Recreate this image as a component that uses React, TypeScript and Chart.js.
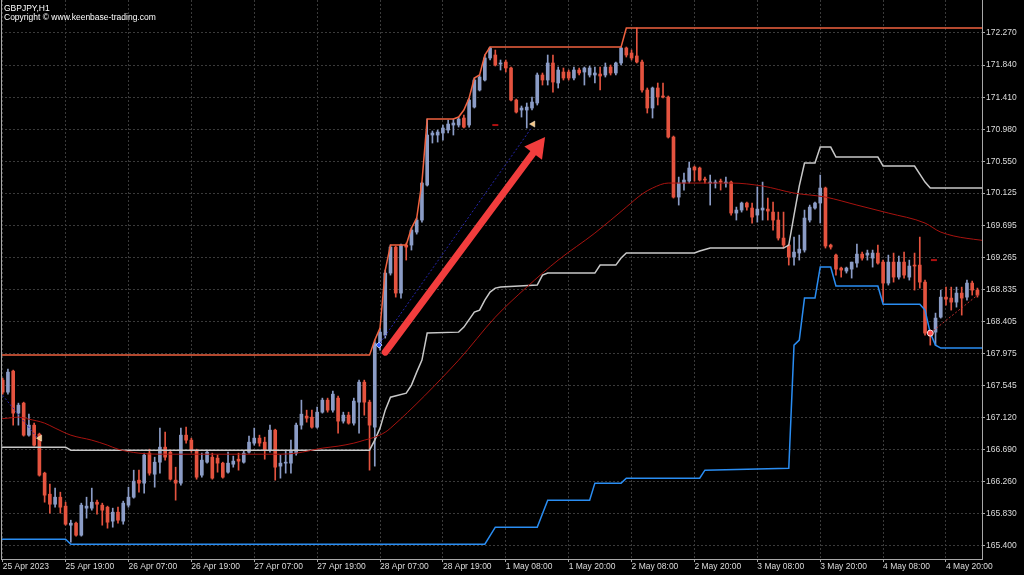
import React, { useEffect, useRef } from "react";
import { Chart, registerables } from "chart.js";

Chart.register(...registerables);

// ---- Candles (GBPJPY, H1), one value per hourly bar, index 0 = 25 Apr 07:00 ----
const OPEN = [
  167.620,167.459,167.741,167.178,167.312,166.883,167.017,166.896,166.374,166.092,
  165.958,166.052,165.932,165.677,165.704,165.543,165.905,165.905,165.985,165.945,
  165.918,165.731,165.851,165.731,165.945,166.052,166.280,166.240,166.642,166.360,
  166.521,166.722,166.655,166.280,166.240,166.883,166.816,166.682,166.347,166.521,
  166.588,166.575,166.508,166.387,166.494,166.561,166.521,166.655,166.776,166.843,
  166.789,166.682,166.950,166.468,166.508,166.508,166.642,167.017,167.138,167.124,
  166.990,167.191,167.352,167.218,167.379,167.071,167.151,167.044,167.325,167.593,
  167.325,166.990,168.116,168.223,169.054,169.402,168.786,169.429,169.429,169.603,
  169.764,170.233,170.903,170.903,170.930,170.970,171.037,171.037,171.131,171.037,
  171.278,171.506,171.640,171.935,171.975,171.854,171.881,171.801,171.372,171.238,
  171.238,171.265,171.332,171.707,171.640,171.868,171.600,171.747,171.747,171.667,
  171.774,171.747,171.707,171.707,171.720,171.707,171.814,171.734,171.868,172.069,
  172.002,171.962,171.881,171.506,171.265,171.533,171.426,171.412,170.876,170.072,
  170.260,170.287,170.474,170.461,170.313,170.260,170.260,170.287,170.260,170.273,
  169.858,169.898,169.992,169.925,169.831,169.898,169.911,169.871,169.764,169.523,
  169.429,169.268,169.322,169.362,169.764,169.925,169.992,170.193,169.429,169.295,
  169.121,169.081,169.107,169.188,169.308,169.295,169.255,169.322,169.201,168.920,
  169.201,169.000,169.201,169.000,169.161,169.161,168.933,168.250,168.263,168.464,
  168.732,168.719,168.665,168.786,168.732,168.920,168.826,
];
const HIGH = [
  167.647,167.767,167.754,167.312,167.325,167.164,167.044,166.910,166.387,166.226,
  166.173,166.119,165.985,165.744,165.717,165.972,166.052,166.173,166.012,165.972,
  165.932,165.905,165.918,165.999,166.186,166.414,166.414,166.642,166.695,166.588,
  166.977,166.923,166.682,166.454,166.977,166.990,166.843,166.695,166.642,166.682,
  166.642,166.615,166.521,166.655,166.602,166.642,166.669,166.870,166.977,166.883,
  166.856,167.017,166.963,166.615,166.682,166.816,167.044,167.352,167.218,167.218,
  167.258,167.379,167.379,167.473,167.406,167.191,167.191,167.379,167.620,167.620,
  167.352,168.156,168.317,169.094,169.429,169.416,169.442,169.456,169.657,169.791,
  170.273,171.117,170.957,170.970,171.037,171.104,171.117,171.144,171.171,171.399,
  171.667,171.707,171.975,172.082,172.042,171.908,171.908,171.814,171.385,171.292,
  171.332,171.412,171.734,171.734,171.975,171.975,171.814,171.801,171.774,171.814,
  171.801,171.814,171.828,171.814,171.814,171.868,171.841,171.881,172.082,172.082,
  172.042,172.337,171.908,171.533,171.546,171.600,171.600,171.426,170.890,170.340,
  170.394,170.541,170.488,170.474,170.340,170.367,170.300,170.313,170.340,170.287,
  169.938,170.005,170.005,169.992,170.206,170.273,170.059,170.005,169.871,169.871,
  169.442,169.536,169.563,169.898,169.965,170.005,170.367,170.206,169.442,169.308,
  169.134,169.134,169.201,169.442,169.335,169.362,169.362,169.429,169.228,169.295,
  169.322,169.282,169.335,169.228,169.322,169.536,168.960,168.290,168.518,168.826,
  168.866,168.866,168.866,168.866,168.960,168.947,168.853,
];
const LOW = [
  167.432,167.432,167.017,167.017,166.870,166.870,166.736,166.334,165.985,165.838,
  165.918,165.838,165.677,165.449,165.530,165.530,165.771,165.878,165.824,165.677,
  165.637,165.650,165.704,165.690,165.918,166.039,166.119,166.106,166.347,166.186,
  166.374,166.548,166.280,166.012,166.213,166.776,166.655,166.293,166.320,166.508,
  166.293,166.387,166.307,166.374,166.454,166.414,166.508,166.642,166.749,166.736,
  166.561,166.655,166.280,166.307,166.374,166.374,166.615,166.963,167.057,166.977,
  166.977,167.178,167.191,167.191,166.910,167.044,167.030,167.017,166.910,167.151,
  166.414,166.468,168.022,168.183,169.027,168.732,168.719,169.228,169.362,169.576,
  169.737,170.220,170.796,170.809,170.836,170.930,170.903,171.010,170.997,171.010,
  171.265,171.493,171.627,171.908,171.828,171.774,171.747,171.359,171.198,171.144,
  170.997,171.238,171.305,171.573,171.573,171.479,171.533,171.640,171.640,171.640,
  171.707,171.573,171.680,171.600,171.506,171.680,171.707,171.707,171.841,171.948,
  171.908,171.868,171.479,171.198,171.131,171.305,171.399,170.863,170.059,169.965,
  170.166,170.260,170.287,170.287,170.260,169.965,170.193,170.166,170.206,169.831,
  169.764,169.871,169.898,169.724,169.737,169.764,169.764,169.630,169.496,169.389,
  169.161,169.161,169.228,169.335,169.737,169.911,169.724,169.389,169.375,169.027,
  169.000,169.054,168.987,169.134,169.228,169.228,169.134,169.174,168.665,168.893,
  168.933,168.973,168.987,168.960,168.826,168.853,168.223,168.089,168.089,168.451,
  168.625,168.558,168.598,168.491,168.692,168.759,168.732,
];
const CLOSE = [
  167.459,167.727,167.178,167.285,166.883,167.017,166.749,166.347,166.079,165.958,
  166.052,165.918,165.690,165.704,165.543,165.945,165.932,165.985,165.958,165.878,
  165.717,165.851,165.744,165.972,166.052,166.267,166.240,166.615,166.374,166.521,
  166.722,166.588,166.293,166.240,166.883,166.816,166.682,166.320,166.548,166.655,
  166.307,166.508,166.320,166.508,166.535,166.535,166.642,166.789,166.843,166.776,
  166.682,166.950,166.454,166.508,166.521,166.682,167.017,167.164,167.111,166.990,
  167.191,167.352,167.218,167.432,167.071,167.151,167.044,167.339,167.593,167.325,
  167.017,168.116,168.263,169.054,169.402,168.786,169.429,169.402,169.630,169.764,
  170.260,170.903,170.930,170.943,170.997,171.050,171.064,171.117,171.010,171.372,
  171.640,171.680,171.935,172.069,171.841,171.868,171.801,171.372,171.211,171.265,
  171.278,171.345,171.707,171.640,171.868,171.613,171.774,171.667,171.667,171.774,
  171.734,171.801,171.801,171.734,171.694,171.814,171.734,171.868,172.069,171.975,
  171.935,171.881,171.506,171.265,171.533,171.412,171.412,170.876,170.072,170.260,
  170.300,170.461,170.434,170.300,170.300,170.273,170.273,170.273,170.273,169.858,
  169.898,169.992,169.938,169.804,169.911,169.925,169.885,169.764,169.523,169.429,
  169.268,169.335,169.375,169.791,169.938,169.992,170.193,169.416,169.402,169.107,
  169.094,169.121,169.201,169.308,169.255,169.322,169.322,169.188,168.920,169.201,
  169.000,169.201,169.027,169.148,169.148,168.933,168.250,168.210,168.451,168.732,
  168.705,168.665,168.786,168.719,168.920,168.826,168.759,
];

// ---- Axis ticks ----
const X_TICK_INDEX = [0, 12, 24, 36, 48, 60, 72, 84, 96, 108, 120, 132, 144, 156, 168, 180];
const X_TICK_LABELS = [
  "25 Apr 2023", "25 Apr 19:00", "26 Apr 07:00", "26 Apr 19:00", "27 Apr 07:00",
  "27 Apr 19:00", "28 Apr 07:00", "28 Apr 19:00", "1 May 08:00", "1 May 20:00",
  "2 May 08:00", "2 May 20:00", "3 May 08:00", "3 May 20:00", "4 May 08:00", "4 May 20:00",
];
const Y_TICKS = [
  172.27, 171.84, 171.41, 170.98, 170.55, 170.125, 169.695, 169.265, 168.835,
  168.405, 167.975, 167.545, 167.12, 166.69, 166.26, 165.83, 165.4,
];

// ---- Indicator lines: [bar index, price] vertices ----
const UPPER_BAND = [
  [-1,167.955],[70,167.955],[71,168.156],[72,168.317],[73,169.094],[74,169.429],[77,169.429],
  [78,169.657],[79,169.791],[80,170.273],[81,171.117],[86,171.117],[87,171.144],[88,171.238],
  [89,171.399],[90,171.667],[91,171.707],[92,171.975],[93,172.082],[118,172.082],[119,172.337],[189,172.337],
];
const LOWER_BAND = [
  [-1,165.489],[12,165.489],[13,165.422],[92,165.422],[94,165.650],[102,165.650],[104,166.012],
  [112,166.012],[113,166.240],[118,166.240],[119,166.307],[133,166.307],[134,166.414],[150,166.441],
  [151,168.089],[152,168.156],[153,168.719],[155,168.719],[156,169.134],[158,169.134],[159,168.880],
  [167,168.880],[168,168.638],[175,168.638],[176,168.558],[177,168.250],[178,168.089],[179,168.049],[189,168.049],
];
const MID_LINE = [
  [-1,166.722],[12,166.722],[13,166.682],[70,166.682],[71,166.816],[72,166.977],[73,167.218],
  [74,167.392],[77,167.446],[78,167.553],[79,167.727],[80,167.888],[81,168.250],[87,168.263],
  [88,168.330],[90,168.531],[91,168.558],[92,168.692],[93,168.799],[94,168.853],[95,168.866],
  [102,168.893],[103,169.027],[104,169.054],[113,169.054],[114,169.161],[117,169.161],[118,169.255],
  [119,169.322],[132,169.322],[133,169.349],[135,169.389],[149,169.389],[150,169.429],[151,169.831],
  [152,170.220],[153,170.528],[155,170.528],[156,170.742],[158,170.742],[159,170.608],[167,170.608],
  [168,170.488],[174,170.488],[176,170.273],[177,170.193],[189,170.193],
];
const MA_LINE = [
  [-1,167.097],[1,167.111],[3,167.124],[5,167.097],[8,167.044],[10,166.977],[13,166.883],
  [17,166.816],[20,166.749],[22,166.695],[26,166.642],[30,166.628],[53,166.628],[56,166.642],
  [61,166.709],[64,166.736],[67,166.776],[69,166.816],[71,166.856],[73,166.923],[74,166.977],
  [87,167.888],[94,168.464],[100,168.866],[106,169.228],[113,169.590],[119,169.938],[122,170.112],
  [124,170.193],[127,170.260],[139,170.260],[145,170.220],[151,170.126],[157,170.072],[163,169.965],
  [169,169.858],[176,169.724],[179,169.603],[189,169.469],
];

// ---- Annotations ----
const ZIGZAG_LEFT = [[-0.5,167.459],[6.5,166.856]];
const ZIGZAG_UP = [[72,168.116],[101,171.010]];
const ZIGZAG_END = [[177,168.250],[186.5,168.786]];
const MARK_ARROWS = [[7.1,166.843],[101.2,171.050]];
const MARK_DIAMOND = [[71.8,168.089]];
const MARK_FLOWER = [[177,168.250]];
const MARK_DASHES = [[94,171.037],[177.7,169.228]];
const ARROW_FROM = [73, 167.995];
const ARROW_TO = [103.5, 170.876];
const TITLE_LINES = ["GBPJPY,H1", "Copyright \u00A9 www.keenbase-trading.com"];

const BULL = "#8b9cc6";
const BEAR = "#e4533f";
const FONT_FAMILY = '"Liberation Sans", Arial, sans-serif';

const pts = (arr: number[][]) => arr.map(([x, y]) => ({ x, y }));

export default function App() {
  const ref = useRef<HTMLCanvasElement | null>(null);

  useEffect(() => {
    if (!ref.current) return;
    const colors = OPEN.map((o, i) => (CLOSE[i] >= o ? BULL : BEAR));
    const wickData = OPEN.map((_, i) => ({ x: i, y: [LOW[i], HIGH[i]] }));
    const bodyData = OPEN.map((o, i) => ({ x: i, y: [Math.min(o, CLOSE[i]), Math.max(o, CLOSE[i])] }));

    const overlay = {
      id: "overlay",
      afterDatasetsDraw(chart: any) {
        const { ctx, scales } = chart;
        const xs = scales.x, ys = scales.y;
        const x1 = xs.getPixelForValue(ARROW_FROM[0]);
        const y1 = ys.getPixelForValue(ARROW_FROM[1]);
        const x2 = xs.getPixelForValue(ARROW_TO[0]);
        const y2 = ys.getPixelForValue(ARROW_TO[1]);
        const ang = Math.atan2(y2 - y1, x2 - x1);
        const headLen = 20, headW = 11;
        const bx = x2 - headLen * Math.cos(ang);
        const by = y2 - headLen * Math.sin(ang);
        ctx.save();
        ctx.strokeStyle = "#f23d3d";
        ctx.fillStyle = "#f23d3d";
        ctx.lineWidth = 7;
        ctx.lineCap = "round";
        ctx.beginPath();
        ctx.moveTo(x1, y1);
        ctx.lineTo(bx + 2 * Math.cos(ang), by + 2 * Math.sin(ang));
        ctx.stroke();
        ctx.beginPath();
        ctx.moveTo(x2, y2);
        ctx.lineTo(bx + headW * Math.sin(ang), by - headW * Math.cos(ang));
        ctx.lineTo(bx - headW * Math.sin(ang), by + headW * Math.cos(ang));
        ctx.closePath();
        ctx.fill();
        ctx.restore();
      },
      afterDraw(chart: any) {
        const { ctx, chartArea } = chart;
        ctx.save();
        ctx.strokeStyle = "#a8a8a8";
        ctx.lineWidth = 1;
        ctx.beginPath();
        ctx.moveTo(chartArea.left + 0.5, chartArea.top);
        ctx.lineTo(chartArea.left + 0.5, chartArea.bottom);
        ctx.stroke();
        ctx.fillStyle = "#ffffff";
        ctx.font = `8.5px ${FONT_FAMILY}`;
        ctx.textBaseline = "alphabetic";
        ctx.textAlign = "left";
        ctx.fillText(TITLE_LINES[0], 4, 11);
        ctx.fillText(TITLE_LINES[1], 4, 20);
        ctx.restore();
      },
    };

    const lineDs = (data: number[][], color: string, width: number, extra: any = {}) => ({
      type: "line",
      data: pts(data),
      borderColor: color,
      borderWidth: width,
      pointRadius: 0,
      tension: 0,
      order: 1,
      ...extra,
    });
    const markDs = (data: number[][], extra: any) => ({
      type: "line",
      data: pts(data),
      showLine: false,
      order: 0,
      ...extra,
    });

    const chart = new Chart(ref.current, {
      type: "bar",
      data: {
        datasets: [
          lineDs(MA_LINE, "#a8130f", 1, { cubicInterpolationMode: "monotone" }),
          lineDs(MID_LINE, "#c8c8c8", 1.5),
          lineDs(LOWER_BAND, "#2a8df2", 1.5),
          lineDs(UPPER_BAND, "#f0623f", 1.5),
          lineDs(ZIGZAG_LEFT, "#2424a8", 1, { borderDash: [2, 2] }),
          lineDs(ZIGZAG_UP, "#2424a8", 1, { borderDash: [2, 2] }),
          lineDs(ZIGZAG_END, "#c03030", 1, { borderDash: [2, 2] }),
          markDs(MARK_ARROWS, { pointStyle: "triangle", pointRotation: 270, pointRadius: 3.5, pointBackgroundColor: "#f6c585", pointBorderColor: "#fff2dd", pointBorderWidth: 0.5 }),
          markDs(MARK_DIAMOND, { pointStyle: "rectRot", pointRadius: 3, pointBackgroundColor: "#2f5bff", pointBorderColor: "#b8c8ff", pointBorderWidth: 1 }),
          markDs(MARK_FLOWER, { pointStyle: "circle", pointRadius: 3, pointBackgroundColor: "#ff4b4b", pointBorderColor: "#ffe0e0", pointBorderWidth: 1 }),
          markDs(MARK_DASHES, { pointStyle: "line", pointRadius: 3, pointBorderColor: "#b01010", pointBorderWidth: 2 }),
          {
            type: "bar",
            data: bodyData,
            backgroundColor: colors,
            borderWidth: 0,
            barThickness: 3,
            grouped: false,
            minBarLength: 1,
            order: 2,
          },
          {
            type: "bar",
            data: wickData,
            backgroundColor: colors,
            borderWidth: 0,
            barThickness: 1,
            grouped: false,
            order: 3,
          },
        ] as any,
      },
      options: {
        responsive: false,
        animation: false,
        devicePixelRatio: 1,
        layout: { autoPadding: false, padding: { left: 1, right: 0, top: 0, bottom: 0 } },
        plugins: { legend: { display: false }, tooltip: { enabled: false } },
        scales: {
          x: {
            type: "linear",
            position: "bottom",
            min: -0.324,
            max: 186.87,
            offset: false,
            grid: {
              offset: false,
              color: "#3a3a3a",
              lineWidth: 1,
              drawTicks: true,
              tickLength: 3,
              tickColor: "#a8a8a8",
              tickBorderDash: [],
              tickWidth: 1,
            },
            border: { display: true, color: "#a8a8a8", width: 1, dash: [2, 2] },
            ticks: {
              autoSkip: false,
              maxRotation: 0,
              minRotation: 0,
              align: "start",
              padding: 0,
              color: "#dcdcdc",
              font: { family: FONT_FAMILY, size: 8.5 },
              callback: (v: any) => {
                const k = X_TICK_INDEX.indexOf(Number(v));
                return k >= 0 ? X_TICK_LABELS[k] : "";
              },
            },
            afterBuildTicks: (s: any) => {
              s.ticks = X_TICK_INDEX.map((v) => ({ value: v }));
            },
            afterFit: (s: any) => {
              s.height = 16;
              s.paddingLeft = 0;
              s.paddingRight = 0;
            },
          },
          y: {
            type: "linear",
            position: "right",
            min: 165.224,
            max: 172.712,
            beginAtZero: false,
            grid: {
              color: "#3a3a3a",
              lineWidth: 1,
              drawTicks: true,
              tickLength: 3,
              tickColor: "#a8a8a8",
              tickBorderDash: [],
              tickWidth: 1,
            },
            border: { display: true, color: "#a8a8a8", width: 1, dash: [2, 2] },
            ticks: {
              autoSkip: false,
              padding: 1,
              color: "#dcdcdc",
              font: { family: FONT_FAMILY, size: 8.5 },
              callback: (v: any) => Number(v).toFixed(3),
            },
            afterBuildTicks: (s: any) => {
              s.ticks = Y_TICKS.map((v) => ({ value: v }));
            },
            afterFit: (s: any) => {
              s.width = 42;
              s.paddingTop = 0;
              s.paddingBottom = 0;
            },
          },
        },
      } as any,
      plugins: [overlay],
    });

    return () => chart.destroy();
  }, []);

  return (
    <div style={{ position: "fixed", left: 0, top: 0, width: 1024, height: 575, background: "#000" }}>
      <canvas ref={ref} width={1024} height={575} style={{ display: "block" }} />
    </div>
  );
}
